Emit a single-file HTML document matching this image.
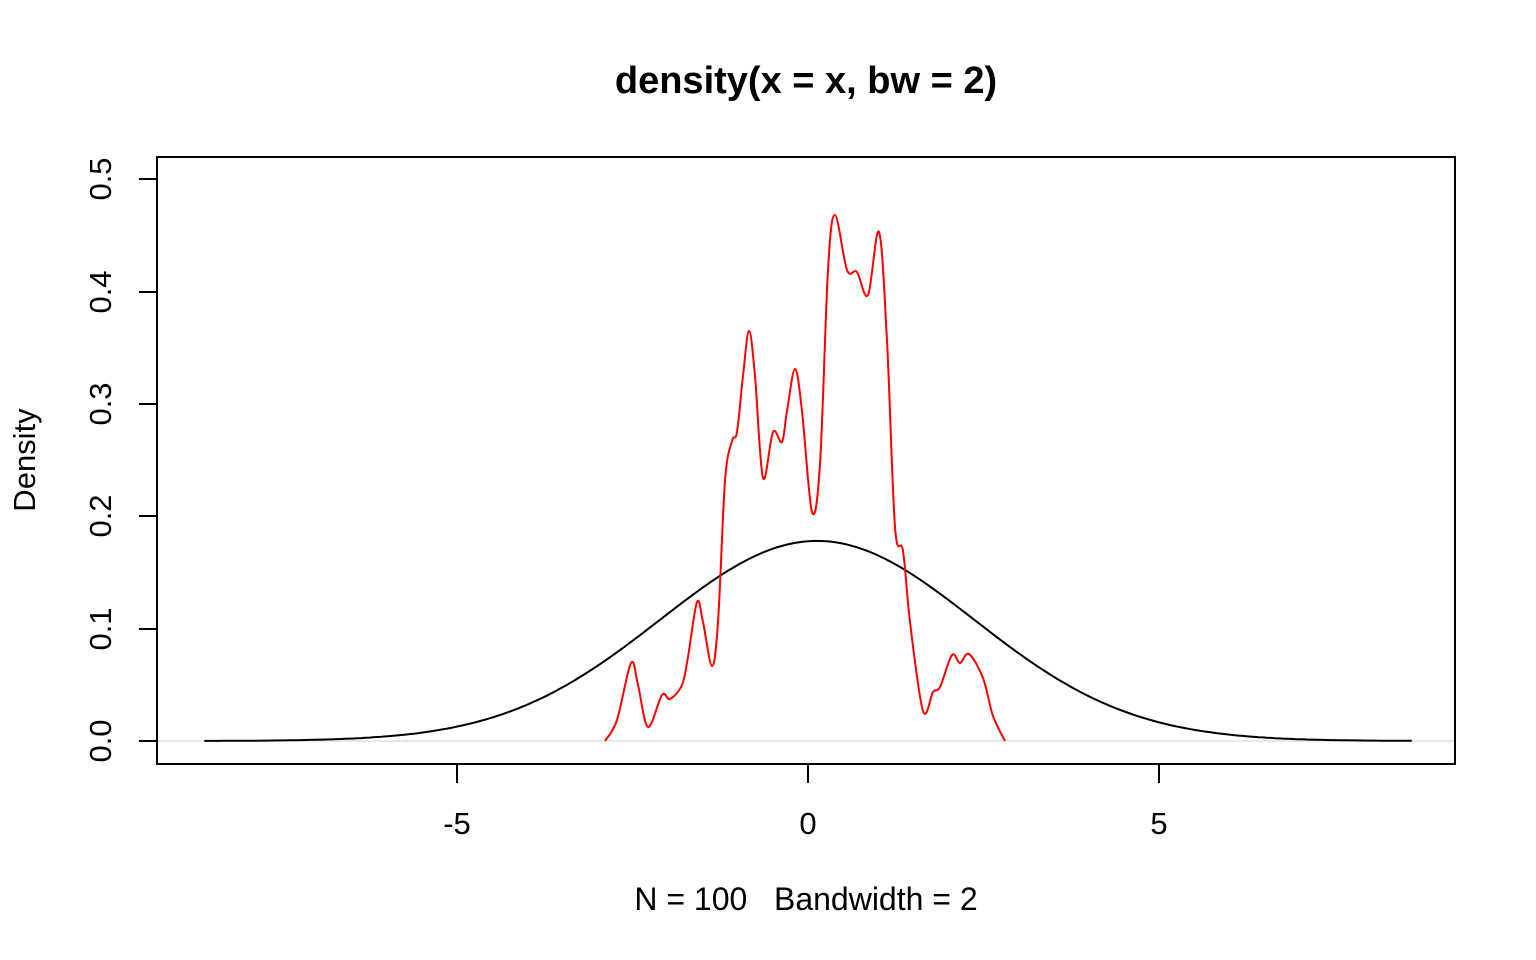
<!DOCTYPE html>
<html><head><meta charset="utf-8"><style>
html,body{margin:0;padding:0;background:#fff;}
svg{display:block;font-family:"Liberation Sans",sans-serif;}
</style></head><body>
<svg id="s" width="1536" height="960" viewBox="0 0 1536 960" xmlns="http://www.w3.org/2000/svg">
<text x="806" y="93" font-size="38" font-weight="bold" text-anchor="middle">density(x = x, bw = 2)</text>
<line x1="157" y1="741" x2="1455" y2="741" stroke="#d0d0d0" stroke-width="1"/>
<rect x="157" y="157" width="1298" height="607" fill="none" stroke="#000" stroke-width="2"/>
<g stroke="#000" stroke-width="2">
<line x1="457" y1="764" x2="1159" y2="764"/>
<line x1="457" y1="764" x2="457" y2="783"/>
<line x1="808" y1="764" x2="808" y2="783"/>
<line x1="1159" y1="764" x2="1159" y2="783"/>
<line x1="139" y1="741" x2="157" y2="741"/>
<line x1="139" y1="629" x2="157" y2="629"/>
<line x1="139" y1="516" x2="157" y2="516"/>
<line x1="139" y1="404" x2="157" y2="404"/>
<line x1="139" y1="292" x2="157" y2="292"/>
<line x1="139" y1="179" x2="157" y2="179"/>
</g>
<g font-size="31" text-anchor="middle">
<text x="457" y="834">-5</text>
<text x="808" y="834">0</text>
<text x="1159" y="834">5</text>
<text transform="translate(111,741) rotate(-90)">0.0</text>
<text transform="translate(111,629) rotate(-90)">0.1</text>
<text transform="translate(111,516) rotate(-90)">0.2</text>
<text transform="translate(111,404) rotate(-90)">0.3</text>
<text transform="translate(111,292) rotate(-90)">0.4</text>
<text transform="translate(111,179) rotate(-90)">0.5</text>
<text transform="translate(35,460) rotate(-90)">Density</text>
<text x="806" y="910" font-size="32">N = 100&#160;&#160;&#160;Bandwidth = 2</text>
</g>
<path id="blk" fill="none" stroke="#000" stroke-width="2"/>
<path id="red" fill="none" stroke="#f00" stroke-width="2"/>
</svg>
<script>
(function(){
var d="";
for(var i=0;i<=300;i++){var x=-8.6+17.2*i/300;var y=0.178*Math.exp(-(x-0.13)*(x-0.13)/(2*5.0));
var px=808+x*70.2, py=741-y*1124;d+=(i?"L":"M")+px.toFixed(1)+","+py.toFixed(1);}
document.getElementById("blk").setAttribute("d",d);
var p=[[605,741],[617,720],[631,663],[638,685],[648,727],[662,695],[670,699],[682,685],[688,657],[697,602],[703,622],[712,666],[718,622],[725,481],[732,441],[737,432],[743,376],[749,331],[755,376],[763,478],[773,432],[782,442],[787,411],[795,369],[802,411],[812,512],[820,464],[828,270],[835,215],[847,270],[857,272],[868,295],[879,232],[887,341],[895,527],[903,551],[910,622],[923,711],[933,692],[940,687],[952,655],[960,663],[969,654],[983,678],[993,716],[1005,741]];
var r="M"+p[0][0]+","+p[0][1];
for(var k=0;k<p.length-1;k++){var a=p[k>0?k-1:0],b=p[k],c=p[k+1],e=p[k+2<p.length?k+2:k+1];
var c1x=b[0]+(c[0]-a[0])/6,c1y=b[1]+(c[1]-a[1])/6,c2x=c[0]-(e[0]-b[0])/6,c2y=c[1]-(e[1]-b[1])/6;
r+="C"+c1x.toFixed(1)+","+c1y.toFixed(1)+" "+c2x.toFixed(1)+","+c2y.toFixed(1)+" "+c[0]+","+c[1];}
document.getElementById("red").setAttribute("d",r);
})();
</script>
</body></html>
